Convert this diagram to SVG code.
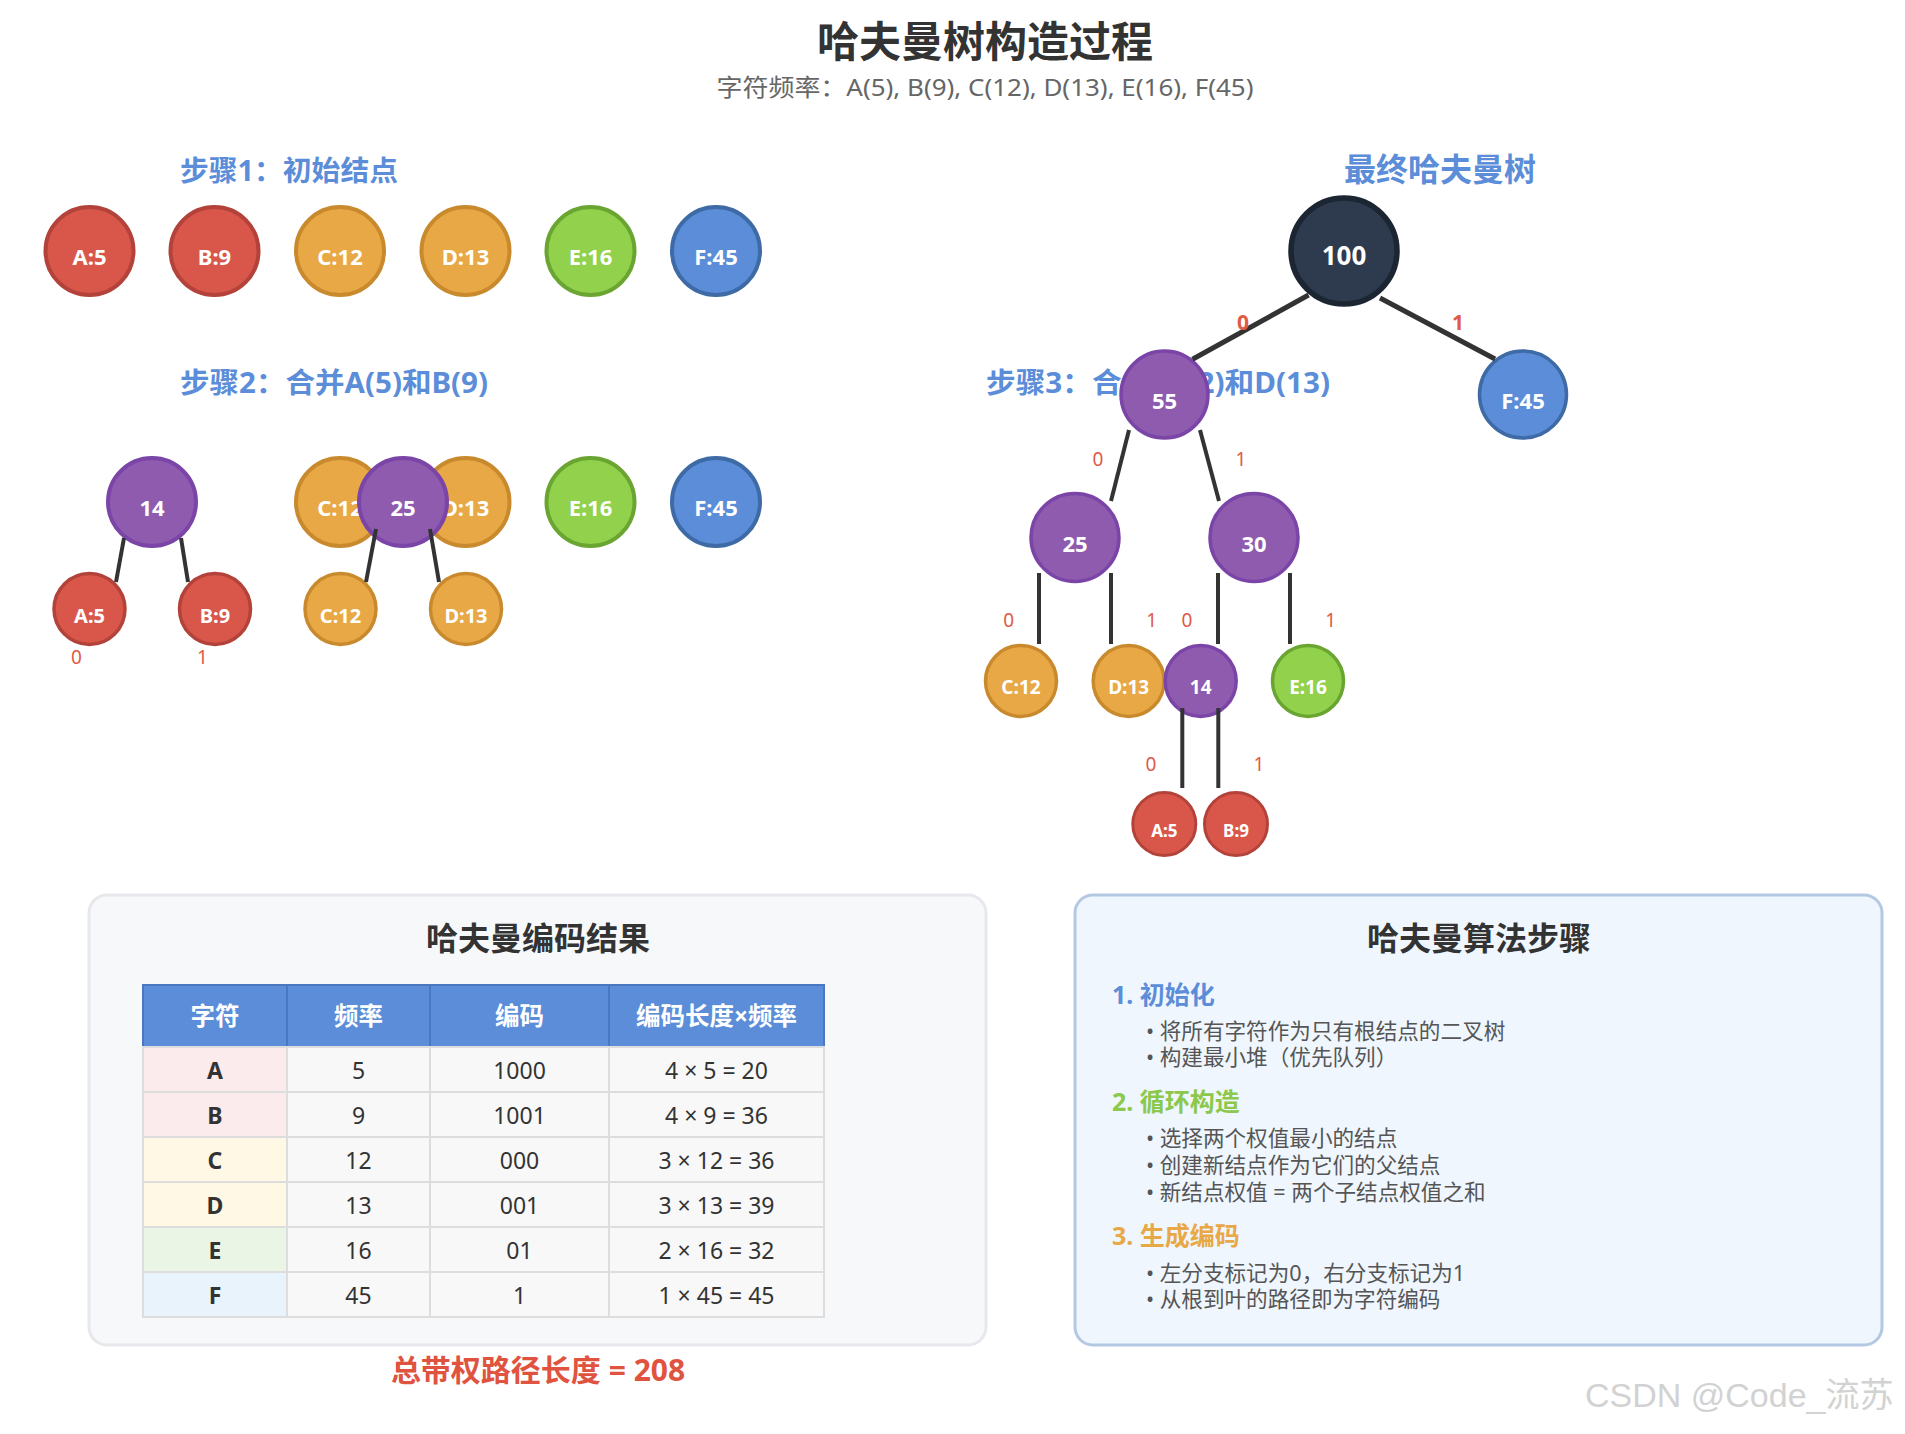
<svg xmlns="http://www.w3.org/2000/svg" width="1905" height="1434" viewBox="0 0 1905 1434">
<style>
text{font-family:"Noto Sans","Noto Sans CJK SC",sans-serif}
.title{font-size:42px;font-weight:700;fill:#333;text-anchor:middle}
.sub{font-size:24px;fill:#666;text-anchor:middle}
.step{font-size:28px;font-weight:700;fill:#5b8dd9}
.nt{fill:#fff;font-weight:700;text-anchor:middle}
.red{fill:#d9574a;stroke:#b3433a}
.org{fill:#e8a845;stroke:#c98a2e}
.grn{fill:#91d14b;stroke:#6aa532}
.blu{fill:#5b8dd9;stroke:#3e6aa6}
.pur{fill:#8e5bae;stroke:#7b45a8}
.drk{fill:#2e3b4e;stroke:#1c2532}
.edge{stroke:#333;stroke-width:4;fill:none}
.el{font-size:19px;fill:#e05a47;text-anchor:middle}
.elb{font-size:21px;font-weight:700;fill:#e05a47;text-anchor:middle}
.ptitle{font-size:32px;font-weight:700;fill:#333;text-anchor:middle}
.th{font-size:24.5px;font-weight:700;fill:#fff;text-anchor:middle}
.td{font-size:23px;fill:#333;text-anchor:middle}
.tdb{font-size:23px;font-weight:700;fill:#333;text-anchor:middle}
.cell{fill:#f8f8f8;stroke:#dddddd;stroke-width:2}
.hcell{fill:#5b8dd9;stroke:#4a78c0;stroke-width:2}
.h3{font-size:25px;font-weight:700}
.bl{font-size:21.6px;fill:#555}
</style>

<!-- Titles -->
<text class="title" x="985" y="57">哈夫曼树构造过程</text>
<text class="sub" x="985" y="96" textLength="537" lengthAdjust="spacingAndGlyphs">字符频率：A(5), B(9), C(12), D(13), E(16), F(45)</text>

<!-- Step labels -->
<text class="step" x="180" y="181" textLength="218" lengthAdjust="spacingAndGlyphs">步骤1：初始结点</text>
<text class="step" x="180" y="393" textLength="308" lengthAdjust="spacingAndGlyphs">步骤2：合并A(5)和B(9)</text>
<text class="step" x="986" y="393" textLength="344" lengthAdjust="spacingAndGlyphs">步骤3：合并C(12)和D(13)</text>
<text class="step" x="1344" y="181" style="font-size:32px">最终哈夫曼树</text>

<!-- Step 1 nodes -->
<g id="s1-A"><circle class="red" cx="89.5" cy="251" r="44" stroke-width="4"/><text class="nt" x="89.5" y="265" font-size="22">A:5</text></g>
<g id="s1-B"><circle class="red" cx="214.5" cy="251" r="44" stroke-width="4"/><text class="nt" x="214.5" y="265" font-size="22">B:9</text></g>
<g id="s1-C"><circle class="org" cx="340" cy="251" r="44" stroke-width="4"/><text class="nt" x="340" y="265" font-size="22">C:12</text></g>
<g id="s1-D"><circle class="org" cx="465.5" cy="251" r="44" stroke-width="4"/><text class="nt" x="465.5" y="265" font-size="22">D:13</text></g>
<g id="s1-E"><circle class="grn" cx="590.5" cy="251" r="44" stroke-width="4"/><text class="nt" x="590.5" y="265" font-size="22">E:16</text></g>
<g id="s1-F"><circle class="blu" cx="716" cy="251" r="44" stroke-width="4"/><text class="nt" x="716" y="265" font-size="22">F:45</text></g>

<!-- Step 2 nodes -->
<g id="s2-14"><circle class="pur" cx="152" cy="502" r="44" stroke-width="4"/><text class="nt" x="152" y="516" font-size="22">14</text></g>
<g id="s2-A"><circle class="red" cx="89.5" cy="609" r="35.5" stroke-width="3.5"/><text class="nt" x="89.5" y="623" font-size="20">A:5</text></g>
<g id="s2-B"><circle class="red" cx="215" cy="609" r="35.5" stroke-width="3.5"/><text class="nt" x="215" y="623" font-size="20">B:9</text></g>
<g id="s2-C"><circle class="org" cx="340" cy="502" r="44" stroke-width="4"/><text class="nt" x="340" y="516" font-size="22">C:12</text></g>
<g id="s2-D"><circle class="org" cx="465.5" cy="502" r="44" stroke-width="4"/><text class="nt" x="465.5" y="516" font-size="22">D:13</text></g>
<g id="s2-25"><circle class="pur" cx="403" cy="502" r="44" stroke-width="4"/><text class="nt" x="403" y="516" font-size="22">25</text></g>
<g id="s2-C2"><circle class="org" cx="340.5" cy="609" r="35.5" stroke-width="3.5"/><text class="nt" x="340.5" y="623" font-size="20">C:12</text></g>
<g id="s2-D2"><circle class="org" cx="466" cy="609" r="35.5" stroke-width="3.5"/><text class="nt" x="466" y="623" font-size="20">D:13</text></g>
<g id="s2-E"><circle class="grn" cx="590.5" cy="502" r="44" stroke-width="4"/><text class="nt" x="590.5" y="516" font-size="22">E:16</text></g>
<g id="s2-F"><circle class="blu" cx="716" cy="502" r="44" stroke-width="4"/><text class="nt" x="716" y="516" font-size="22">F:45</text></g>

<!-- Final tree nodes -->
<g id="t-100"><circle class="drk" cx="1344" cy="251" r="53" stroke-width="5.5"/><text class="nt" x="1344" y="265" font-size="26">100</text></g>
<g id="t-55"><circle class="pur" cx="1164.5" cy="394.5" r="43.5" stroke-width="3.5"/><text class="nt" x="1164.5" y="408.5" font-size="22">55</text></g>
<g id="t-F"><circle class="blu" cx="1523" cy="394.5" r="43.5" stroke-width="3.5"/><text class="nt" x="1523" y="408.5" font-size="22">F:45</text></g>
<g id="t-25"><circle class="pur" cx="1075" cy="537.5" r="44" stroke-width="3.5"/><text class="nt" x="1075" y="551.5" font-size="22">25</text></g>
<g id="t-30"><circle class="pur" cx="1254" cy="537.5" r="44" stroke-width="3.5"/><text class="nt" x="1254" y="551.5" font-size="22">30</text></g>
<g id="t-C"><circle class="org" cx="1021" cy="681" r="35.5" stroke-width="3.5"/><text class="nt" x="1021" y="693.5" font-size="19">C:12</text></g>
<g id="t-D"><circle class="org" cx="1128.7" cy="681" r="35.5" stroke-width="3.5"/><text class="nt" x="1128.7" y="693.5" font-size="19">D:13</text></g>
<g id="t-14"><circle class="pur" cx="1200.7" cy="681" r="35.5" stroke-width="3.5"/><text class="nt" x="1200.7" y="693.5" font-size="19">14</text></g>
<g id="t-E"><circle class="grn" cx="1308" cy="681" r="35.5" stroke-width="3.5"/><text class="nt" x="1308" y="693.5" font-size="19">E:16</text></g>
<g id="t-A"><circle class="red" cx="1164.3" cy="824" r="31.5" stroke-width="3"/><text class="nt" x="1164.3" y="837" font-size="17">A:5</text></g>
<g id="t-B"><circle class="red" cx="1236" cy="824" r="31.5" stroke-width="3"/><text class="nt" x="1236" y="837" font-size="17">B:9</text></g>

<!-- Connectors -->
<g id="connectors">
  <line class="edge" x1="124" y1="538" x2="116" y2="582" stroke-width="3.5"/>
  <line class="edge" x1="181" y1="538" x2="188" y2="582" stroke-width="3.5"/>
  <line class="edge" x1="376" y1="529" x2="366" y2="582" stroke-width="3.5"/>
  <line class="edge" x1="430" y1="529" x2="439" y2="582" stroke-width="3.5"/>
  <text class="el" x="76.5" y="664">0</text>
  <text class="el" x="202.5" y="664">1</text>

  <line class="edge" x1="1308.6" y1="295" x2="1192.5" y2="359.3" style="stroke-width:5"/>
  <line class="edge" x1="1380" y1="298" x2="1495" y2="359" style="stroke-width:5"/>
  <text class="elb" x="1243" y="330">0</text>
  <text class="elb" x="1458" y="330">1</text>

  <line class="edge" x1="1129" y1="430" x2="1111" y2="501"/>
  <line class="edge" x1="1200" y1="430" x2="1219" y2="501"/>
  <text class="el" x="1098" y="466">0</text>
  <text class="el" x="1241" y="466">1</text>

  <line class="edge" x1="1039" y1="573" x2="1039" y2="644"/>
  <line class="edge" x1="1111" y1="573" x2="1111" y2="644"/>
  <line class="edge" x1="1218" y1="573" x2="1218" y2="644"/>
  <line class="edge" x1="1290" y1="573" x2="1290" y2="644"/>
  <text class="el" x="1008.7" y="627">0</text>
  <text class="el" x="1151.7" y="627">1</text>
  <text class="el" x="1187" y="627">0</text>
  <text class="el" x="1330.7" y="627">1</text>

  <line class="edge" x1="1182.3" y1="708" x2="1182.3" y2="788"/>
  <line class="edge" x1="1218.3" y1="708" x2="1218.3" y2="788"/>
  <text class="el" x="1151" y="771">0</text>
  <text class="el" x="1259" y="771">1</text>
</g>

<!-- Left panel: encoding results -->
<g id="panel-results">
  <rect x="89" y="895" width="897" height="450" rx="18" fill="#f7f8fa" stroke="#e6e8eb" stroke-width="3"/>
  <text class="ptitle" x="538" y="950">哈夫曼编码结果</text>
  <rect class="hcell" x="143" y="985" width="144" height="62"/>
  <rect class="hcell" x="287" y="985" width="143" height="62"/>
  <rect class="hcell" x="430" y="985" width="179" height="62"/>
  <rect class="hcell" x="609" y="985" width="215" height="62"/>
  <text class="th" x="215" y="1025">字符</text>
  <text class="th" x="358.5" y="1025">频率</text>
  <text class="th" x="519.5" y="1025">编码</text>
  <text class="th" x="716.5" y="1025">编码长度×频率</text>

  <rect class="cell" x="143" y="1047" width="144" height="45" style="fill:#fcebec"/>
  <rect class="cell" x="287" y="1047" width="143" height="45"/><rect class="cell" x="430" y="1047" width="179" height="45"/><rect class="cell" x="609" y="1047" width="215" height="45"/>
  <text class="tdb" x="215" y="1079">A</text><text class="td" x="358.5" y="1079">5</text><text class="td" x="519.5" y="1079">1000</text><text class="td" x="716.5" y="1079">4 × 5 = 20</text>

  <rect class="cell" x="143" y="1092" width="144" height="45" style="fill:#fcebec"/>
  <rect class="cell" x="287" y="1092" width="143" height="45"/><rect class="cell" x="430" y="1092" width="179" height="45"/><rect class="cell" x="609" y="1092" width="215" height="45"/>
  <text class="tdb" x="215" y="1124">B</text><text class="td" x="358.5" y="1124">9</text><text class="td" x="519.5" y="1124">1001</text><text class="td" x="716.5" y="1124">4 × 9 = 36</text>

  <rect class="cell" x="143" y="1137" width="144" height="45" style="fill:#fef8e5"/>
  <rect class="cell" x="287" y="1137" width="143" height="45"/><rect class="cell" x="430" y="1137" width="179" height="45"/><rect class="cell" x="609" y="1137" width="215" height="45"/>
  <text class="tdb" x="215" y="1169">C</text><text class="td" x="358.5" y="1169">12</text><text class="td" x="519.5" y="1169">000</text><text class="td" x="716.5" y="1169">3 × 12 = 36</text>

  <rect class="cell" x="143" y="1182" width="144" height="45" style="fill:#fef8e5"/>
  <rect class="cell" x="287" y="1182" width="143" height="45"/><rect class="cell" x="430" y="1182" width="179" height="45"/><rect class="cell" x="609" y="1182" width="215" height="45"/>
  <text class="tdb" x="215" y="1214">D</text><text class="td" x="358.5" y="1214">13</text><text class="td" x="519.5" y="1214">001</text><text class="td" x="716.5" y="1214">3 × 13 = 39</text>

  <rect class="cell" x="143" y="1227" width="144" height="45" style="fill:#ebf5e5"/>
  <rect class="cell" x="287" y="1227" width="143" height="45"/><rect class="cell" x="430" y="1227" width="179" height="45"/><rect class="cell" x="609" y="1227" width="215" height="45"/>
  <text class="tdb" x="215" y="1259">E</text><text class="td" x="358.5" y="1259">16</text><text class="td" x="519.5" y="1259">01</text><text class="td" x="716.5" y="1259">2 × 16 = 32</text>

  <rect class="cell" x="143" y="1272" width="144" height="45" style="fill:#e9f3fc"/>
  <rect class="cell" x="287" y="1272" width="143" height="45"/><rect class="cell" x="430" y="1272" width="179" height="45"/><rect class="cell" x="609" y="1272" width="215" height="45"/>
  <text class="tdb" x="215" y="1304">F</text><text class="td" x="358.5" y="1304">45</text><text class="td" x="519.5" y="1304">1</text><text class="td" x="716.5" y="1304">1 × 45 = 45</text>
</g>
<text x="538" y="1381" text-anchor="middle" font-size="30" font-weight="700" fill="#e0533f">总带权路径长度 = 208</text>

<!-- Right panel: algorithm steps -->
<g id="panel-steps">
  <rect x="1075" y="895" width="807" height="450" rx="18" fill="#eff6fd" stroke="#b5c8e3" stroke-width="3"/>
  <text class="ptitle" x="1479" y="950">哈夫曼算法步骤</text>
  <text class="h3" x="1112" y="1004" fill="#5b8dd9">1. 初始化</text>
  <text class="bl" x="1146" y="1039">• 将所有字符作为只有根结点的二叉树</text>
  <text class="bl" x="1146" y="1065">• 构建最小堆（优先队列）</text>
  <text class="h3" x="1112" y="1111" fill="#8cc84b">2. 循环构造</text>
  <text class="bl" x="1146" y="1146">• 选择两个权值最小的结点</text>
  <text class="bl" x="1146" y="1173">• 创建新结点作为它们的父结点</text>
  <text class="bl" x="1146" y="1200">• 新结点权值 = 两个子结点权值之和</text>
  <text class="h3" x="1112" y="1245" fill="#e8a845">3. 生成编码</text>
  <text class="bl" x="1146" y="1281">• 左分支标记为0，右分支标记为1</text>
  <text class="bl" x="1146" y="1307">• 从根到叶的路径即为字符编码</text>
</g>

<text x="1585" y="1407" font-size="34" fill="#d2d2d2" style="font-family:'Liberation Sans','Noto Sans CJK SC',sans-serif">CSDN @Code_流苏</text>
</svg>
